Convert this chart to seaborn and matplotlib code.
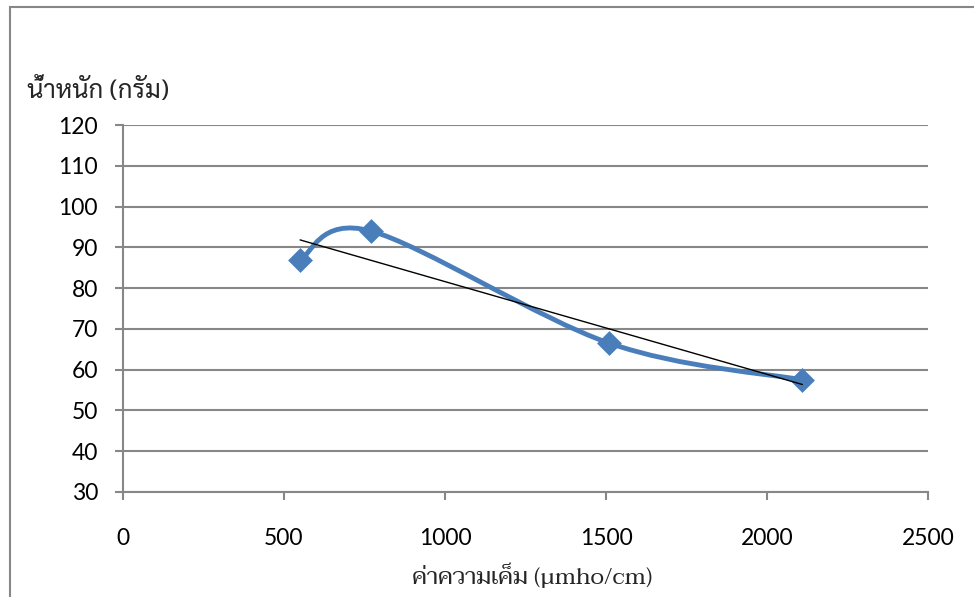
import matplotlib
matplotlib.use("Agg")
import numpy as np
import matplotlib.pyplot as plt
import seaborn as sns
from matplotlib.path import Path
from matplotlib.patches import PathPatch, Rectangle

# salinity (umho/cm) vs weight (g)
salinity = [550, 770, 1510, 2110]
weight = [87, 94, 66.5, 57.5]
x_ticks = [0, 500, 1000, 1500, 2000, 2500]
y_ticks = [30, 40, 50, 60, 70, 80, 90, 100, 110, 120]

blue = "#4A7EBB"
grid_grey = "#878787"

sns.set_style("white")
plt.rcParams["font.family"] = ["Lato", "DejaVu Sans"]

fig = plt.figure(figsize=(9.74, 5.97), dpi=100)
ax = fig.add_axes([123 / 974, 1 - 492 / 597, (928 - 123) / 974, (492 - 125) / 597])

# excel style smoothed line -> cubic bezier through the points
px = np.array(salinity, dtype=float)
py = np.array(weight, dtype=float)
verts = [(px[0], py[0])]
codes = [Path.MOVETO]
n = len(px)
for i in range(n - 1):
    p_prev = i - 1 if i > 0 else i
    p_next = i + 2 if i + 2 < n else i + 1
    c1 = (px[i] + (px[i + 1] - px[p_prev]) / 6, py[i] + (py[i + 1] - py[p_prev]) / 6)
    c2 = (px[i + 1] - (px[p_next] - px[i]) / 6, py[i + 1] - (py[p_next] - py[i]) / 6)
    verts += [c1, c2, (px[i + 1], py[i + 1])]
    codes += [Path.CURVE4] * 3
ax.add_patch(PathPatch(Path(verts, codes), fill=False, ec=blue, lw=3.5,
                       capstyle="round", joinstyle="round", zorder=3))

sns.scatterplot(x=salinity, y=weight, marker="D", s=160, color=blue,
                edgecolor=blue, linewidth=0, ax=ax, zorder=4)

# linear trendline
sns.regplot(x=salinity, y=weight, scatter=False, ci=None, truncate=True,
            line_kws=dict(color="black", lw=1.0, zorder=5), ax=ax)

ax.set_xlim(0, 2500)
ax.set_ylim(30, 120)
ax.set_xticks(x_ticks)
ax.set_yticks(y_ticks)
ax.set_xlabel("")
ax.set_ylabel("")
ax.yaxis.grid(True, color=grid_grey, lw=1.5)
ax.xaxis.grid(False)
ax.set_axisbelow(True)
for s in ["top", "right"]:
    ax.spines[s].set_visible(False)
for s in ["left", "bottom"]:
    ax.spines[s].set_color(grid_grey)
    ax.spines[s].set_linewidth(1.5)
ax.tick_params(axis="y", direction="out", length=6, width=1.5, color=grid_grey,
               left=True, pad=12, labelsize=16.5, labelcolor="black")
ax.tick_params(axis="x", direction="out", length=6, width=1.5, color=grid_grey,
               bottom=True, pad=20, labelsize=16.5, labelcolor="black")

# axis titles
fig.text(27 / 974, 1 - 91 / 597, "น้ำหนัก (กรัม)", ha="left", va="center",
         fontsize=18.5, family=["Sarabun", "Loma", "DejaVu Sans"])
fig.text(532 / 974, 1 - 576 / 597, "ค่าความเค็ม (μmho/cm)", ha="center", va="center",
         fontsize=17, family=["Norasi", "Taviraj", "DejaVu Serif"])

# outer chart frame (only left and top visible)
fig.patches.append(Rectangle((9.5 / 974, -0.1), 1.2, 1.1 - 6.5 / 597, transform=fig.transFigure,
                             fill=False, ec=grid_grey, lw=1.5))

fig.savefig("out.png", dpi=100)
